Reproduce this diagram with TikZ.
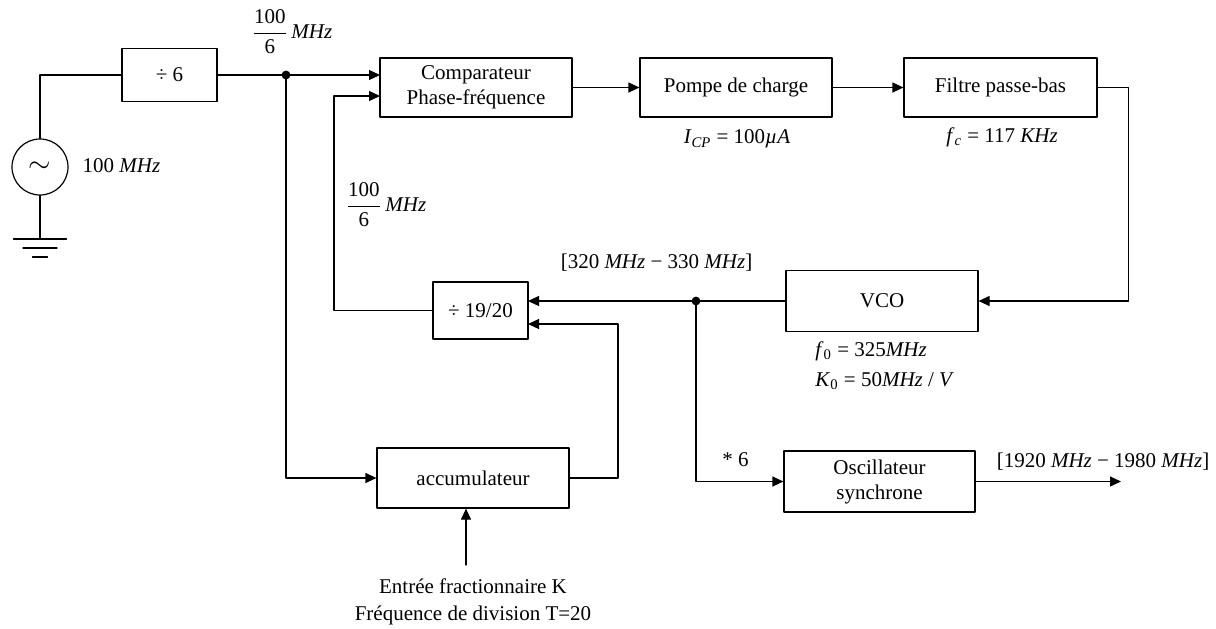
\documentclass[tikz,border=0pt]{standalone}
\usepackage{amsmath}
\usepackage{fontspec}
\setmainfont{Liberation Serif}
\usetikzlibrary{arrows.meta}
\newcommand{\fq}{$\dfrac{\text{100}}{\text{6}}$\,\textit{MHz}}

\begin{document}
\begin{tikzpicture}[line cap=round,line join=round,>={Triangle[length=5.5pt,width=5pt]},x=0.5pt,y=-0.5pt,
  bloc/.style={draw,line width=0.6pt,inner sep=0pt,align=center,font=\fontsize{10.5}{12.5}\selectfont},
  lbl/.style={inner sep=0pt,font=\fontsize{10.5}{12.5}\selectfont},
  fil/.style={line width=0.6pt}]
\useasboundingbox (0,0) rectangle (1216,628);
\node[bloc,minimum width=47.5pt,minimum height=26.5pt] (div6) at (169.5,75) {÷ 6};
\node[bloc,minimum width=96pt,minimum height=29.5pt] (comp) at (476,87.5) {Comparateur\\Phase-fréquence};
\node[bloc,minimum width=96pt,minimum height=29.5pt] (pompe) at (736,87.5) {Pompe de charge};
\node[bloc,minimum width=96.5pt,minimum height=29.5pt] (filtre) at (1000.5,87.5) {Filtre passe-bas};
\node[bloc,minimum width=96pt,minimum height=30.5pt] (vco) at (882,301) {VCO};
\node[bloc,minimum width=47.5pt,minimum height=28.5pt] (div19) at (480.5,310.5) {÷ 19/20};
\node[bloc,minimum width=96pt,minimum height=30pt] (accu) at (473,478) {accumulateur};
\node[bloc,minimum width=95.5pt,minimum height=30.5pt] (osc) at (879.5,481.5) {Oscillateur\\synchrone};
\node[draw,circle,line width=0.6pt,minimum size=28pt,inner sep=0pt] (src) at (40,167) {\Large$\sim$};
\coordinate (n1) at (286,75);
\coordinate (c1) at (380,75);
\coordinate (c2) at (380,96);
\coordinate (r1) at (334,96);
\coordinate (d1) at (528,301);
\coordinate (d2) at (528,324);
\coordinate (n2) at (696,301);
\coordinate (a1) at (618,324);
\coordinate (k) at (466,565);
\coordinate (out) at (1121,481.5);
\coordinate (g) at (40,239);
\draw[fil] (src.north) |- (div6.west);
\draw[fil] (src.south) -- (g);
\foreach \w/\dy in {26.5/0,17/9,7.5/18}
  \draw[fil] ([shift={(-\w,\dy)}]g) -- ([shift={(\w,\dy)}]g);
\draw[fil,->] (div6.east) -- (c1);
\fill (n1) circle (2.2pt);
\draw[fil,->] (n1) |- (accu.west);
\draw[fil,->] (div19.west) -| (r1) -- (c2);
\draw[fil,->] (comp.east) -- (pompe.west);
\draw[fil,->] (pompe.east) -- (filtre.west);
\draw[fil,->] (filtre.east) -- ++(31,0) |- (vco.east);
\draw[fil,->] (vco.west) -- (d1);
\fill (n2) circle (2.2pt);
\draw[fil,->] (n2) |- (osc.west);
\draw[fil,->] (osc.east) -- (out);
\draw[fil,->] (accu.east) -| (a1) -- (d2);
\draw[fil,->] (k) -- (k |- accu.south);
\node[lbl] (f1) at (292,32) {\fq};
\node[lbl] (f2) at (386,205) {\fq};
\node[lbl] (s1) at (121.5,166) {100 \textit{MHz}};
\node[lbl] (icp) at (737,139) {\textit{I}\textsubscript{\textit{CP}} = 100\textit{µA}};
\node[lbl] (fc) at (1002,137) {\textit{f}\textsubscript{\textit{c}} = 117 \textit{KHz}};
\node[lbl] (bande1) at (656.5,263) {[320 \textit{MHz} − 330 \textit{MHz}]};
\node[lbl,anchor=west] (f0) at (815,351) {\textit{f}\textsubscript{0} = 325\textit{MHz}};
\node[lbl,anchor=west] (k0) at (815,381) {\textit{K}\textsubscript{0} = 50\textit{MHz} / \textit{V}};
\node[lbl] (x6) at (735.5,460) {* 6};
\node[lbl] (bande2) at (1103,462) {[1920 \textit{MHz} − 1980 \textit{MHz}]};
\node[lbl,align=center,font=\fontsize{10.5}{13.5}\selectfont] (kin) at (473,602) {Entrée fractionnaire K\\Fréquence de division T=20};
\end{tikzpicture}
\end{document}
